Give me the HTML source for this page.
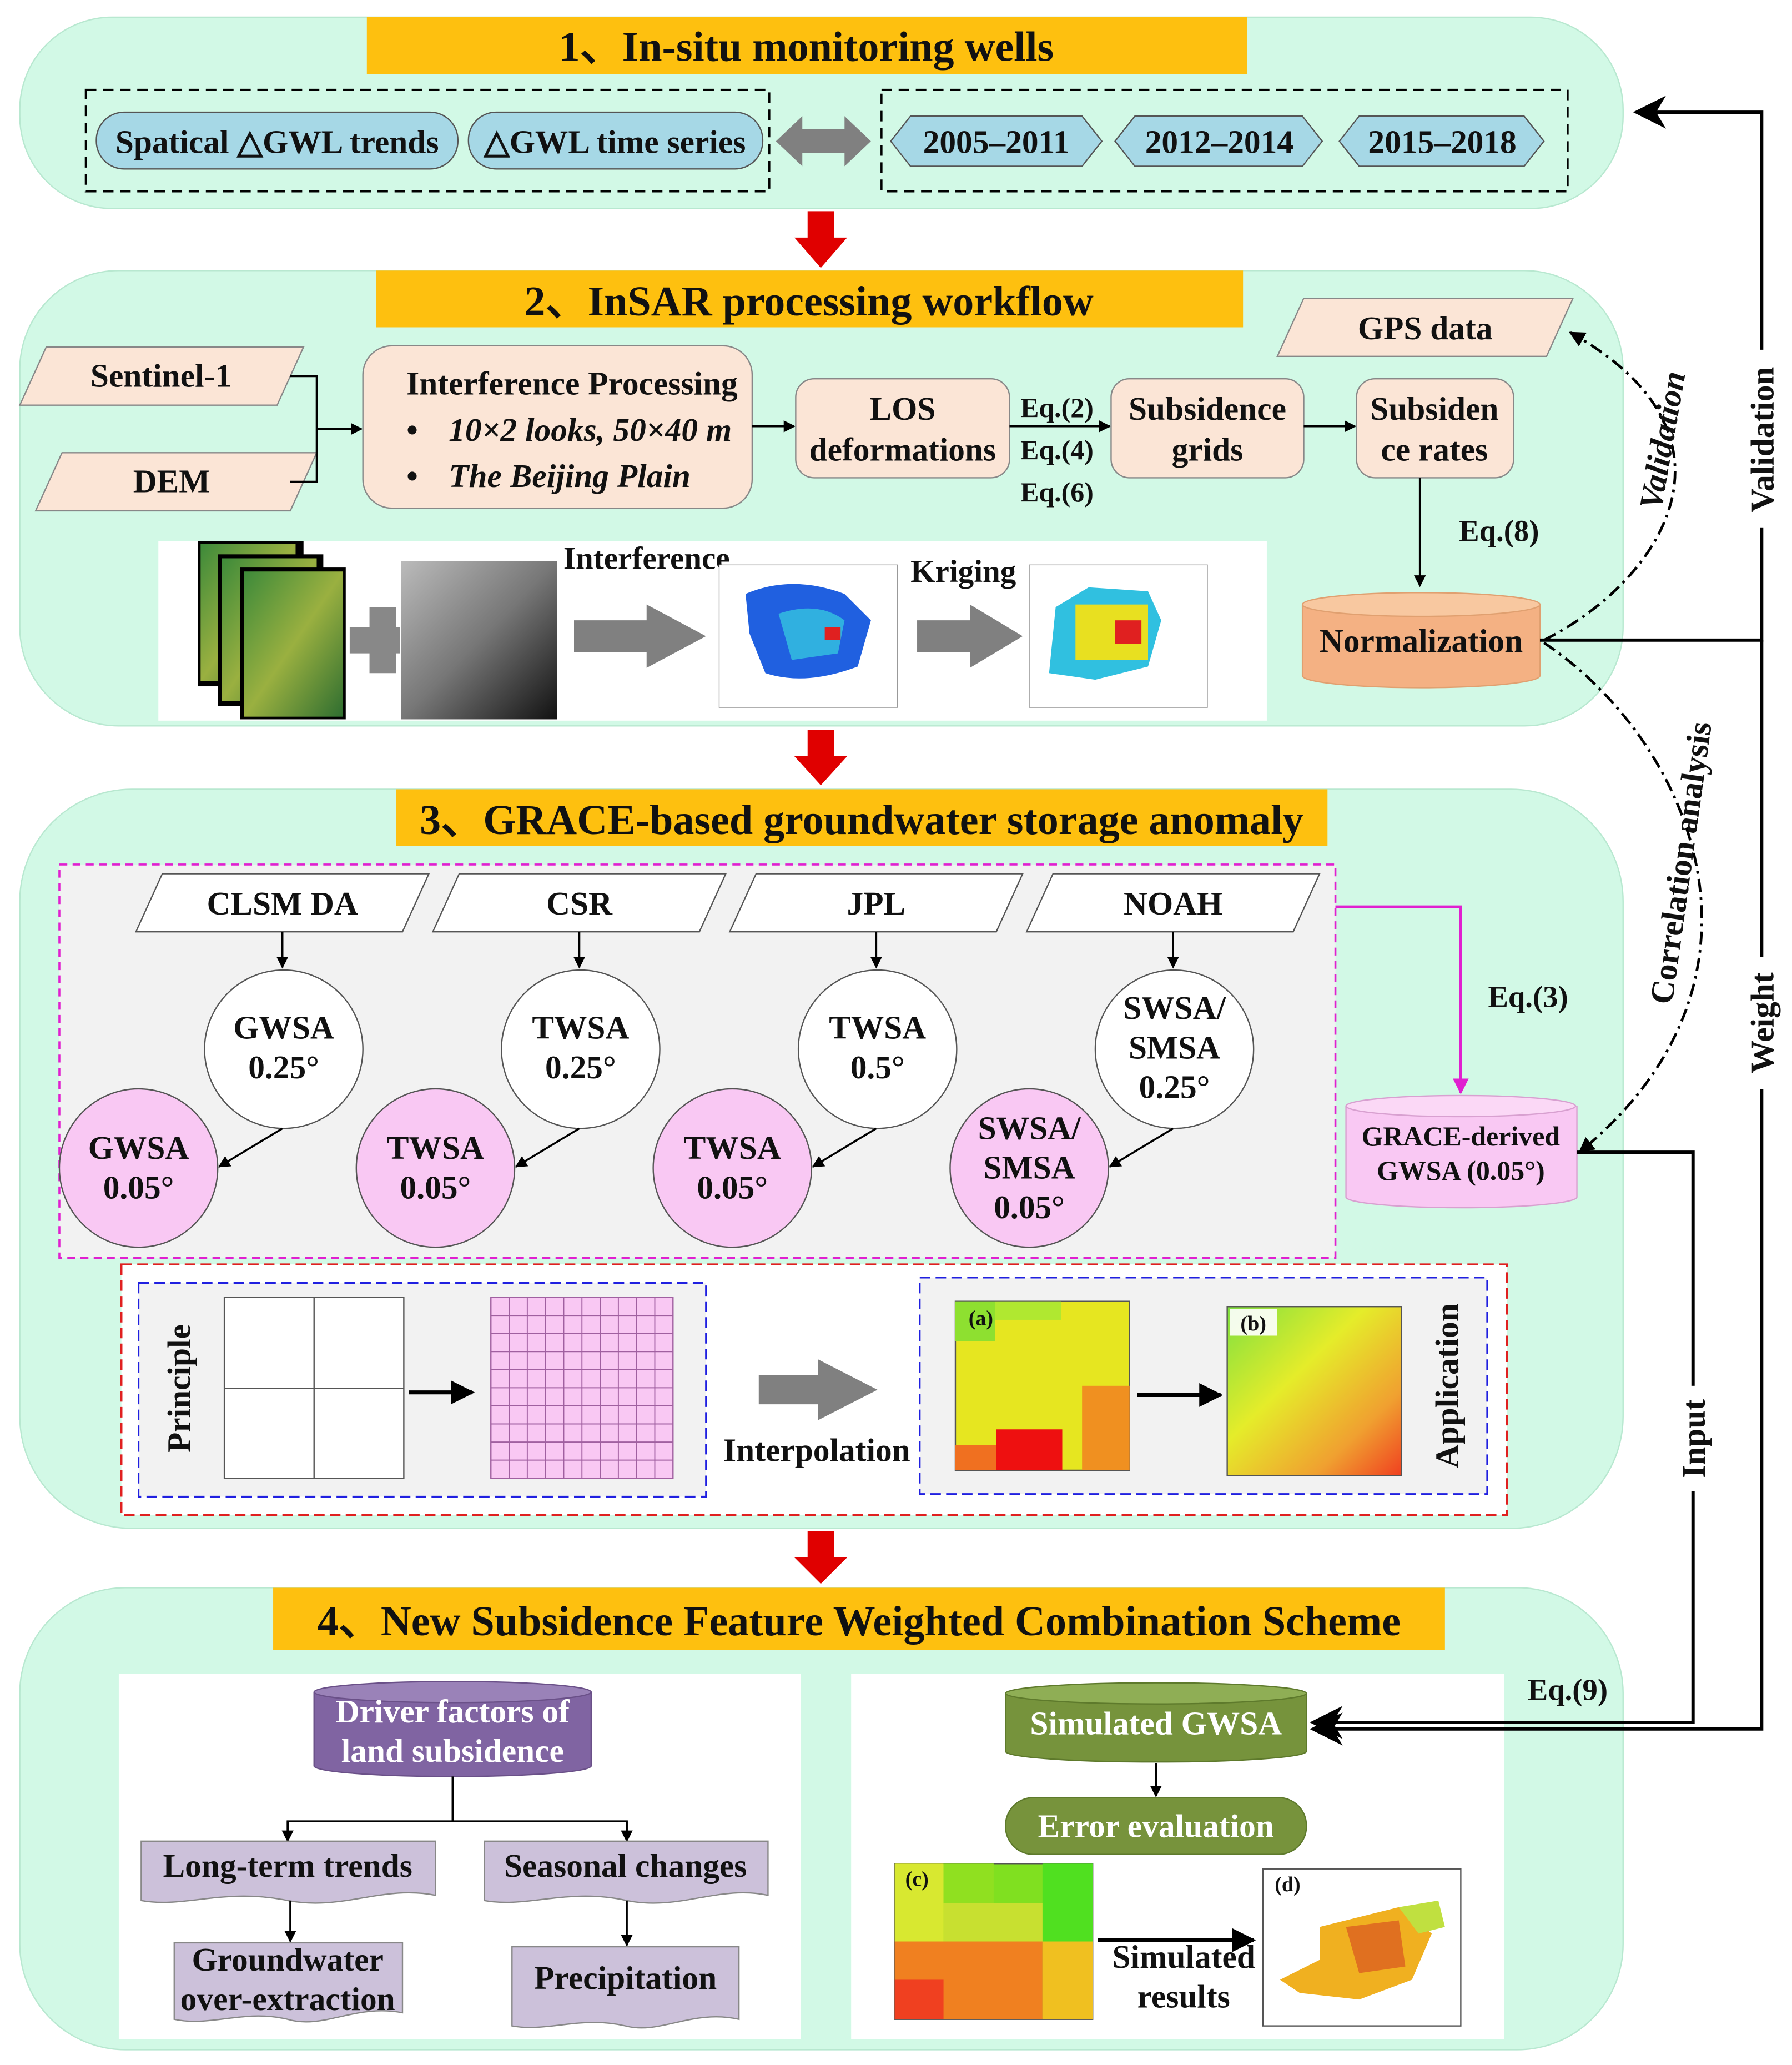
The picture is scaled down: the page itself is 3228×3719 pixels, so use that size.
<!DOCTYPE html>
<html><head><meta charset="utf-8"><style>
html,body{margin:0;padding:0;background:#fff}
svg{display:block}
text{font-family:"Liberation Serif",serif;font-weight:bold;fill:#111}
</style></head><body>
<svg width="3228" height="3719" viewBox="0 0 1358 1564.6" preserveAspectRatio="none" xmlns="http://www.w3.org/2000/svg">
<defs>
<marker id="ah" viewBox="0 0 10 10" refX="9" refY="5" markerWidth="6" markerHeight="6" orient="auto-start-reverse"><path d="M0,0L10,5L0,10z" fill="#000"/></marker>
<marker id="ahm" viewBox="0 0 10 10" refX="9" refY="5" markerWidth="6" markerHeight="6" orient="auto"><path d="M0,0L10,5L0,10z" fill="#e020d0"/></marker>
<marker id="big" viewBox="0 0 10 10" refX="9" refY="5" markerWidth="14" markerHeight="10" orient="auto"><path d="M0,0L10,5L0,10L3,5z" fill="#000"/></marker>
<linearGradient id="gb" x1="0" y1="0" x2="1" y2="1"><stop offset="0" stop-color="#7fe040"/><stop offset="0.4" stop-color="#e5ec2a"/><stop offset="0.75" stop-color="#f0a030"/><stop offset="1" stop-color="#f04020"/></linearGradient>
<linearGradient id="dem" x1="0" y1="0" x2="1" y2="1"><stop offset="0" stop-color="#bbb"/><stop offset="0.5" stop-color="#777"/><stop offset="1" stop-color="#111"/></linearGradient>
<linearGradient id="sat" x1="0" y1="0" x2="1" y2="1"><stop offset="0" stop-color="#3d8a3a"/><stop offset="0.5" stop-color="#9ab040"/><stop offset="1" stop-color="#2f6e30"/></linearGradient>
</defs>

<!-- Panel 1 -->
<rect x="15" y="13" width="1215" height="145" rx="70" fill="#d2f9e6" stroke="#b8e8d0"/>
<rect x="278" y="13" width="667" height="43" fill="#fec00f"/>
<text x="611" y="46" font-size="32" text-anchor="middle">1、In-situ monitoring wells</text>
<rect x="65" y="68" width="518" height="77" fill="none" stroke="#000" stroke-dasharray="8,5" stroke-width="1.5"/>
<rect x="73" y="85" width="274" height="43" rx="21" fill="#a6d8e6" stroke="#555"/>
<text x="210" y="116" font-size="25" text-anchor="middle">Spatical △GWL trends</text>
<rect x="355" y="85" width="223" height="43" rx="21" fill="#a6d8e6" stroke="#555"/>
<text x="466" y="116" font-size="25" text-anchor="middle">△GWL time series</text>
<path d="M588,107 L608,88 L608,98 L640,98 L640,88 L660,107 L640,126 L640,116 L608,116 L608,126z" fill="#808080"/>
<rect x="668" y="68" width="520" height="77" fill="none" stroke="#000" stroke-dasharray="8,5" stroke-width="1.5"/>
<path d="M675,107 L690,88 L820,88 L835,107 L820,126 L690,126z" fill="#a6d8e6" stroke="#555"/>
<text x="755" y="116" font-size="25" text-anchor="middle">2005–2011</text>
<path d="M845,107 L860,88 L987,88 L1002,107 L987,126 L860,126z" fill="#a6d8e6" stroke="#555"/>
<text x="924" y="116" font-size="25" text-anchor="middle">2012–2014</text>
<path d="M1015,107 L1030,88 L1155,88 L1170,107 L1155,126 L1030,126z" fill="#a6d8e6" stroke="#555"/>
<text x="1093" y="116" font-size="25" text-anchor="middle">2015–2018</text>

<path d="M612,160 L632,160 L632,180 L642,180 L622,203 L602,180 L612,180z" fill="#e00000"/>

<!-- Panel 2 -->
<rect x="15" y="205" width="1215" height="345" rx="75" fill="#d2f9e6" stroke="#b8e8d0"/>
<rect x="285" y="205" width="657" height="43" fill="#fec00f"/>
<text x="613" y="239" font-size="32" text-anchor="middle">2、InSAR processing workflow</text>
<path d="M35,263 L230,263 L210,307 L15,307z" fill="#fbe5d6" stroke="#888"/>
<text x="122" y="293" font-size="25" text-anchor="middle">Sentinel-1</text>
<path d="M47,343 L240,343 L220,387 L27,387z" fill="#fbe5d6" stroke="#888"/>
<text x="130" y="373" font-size="25" text-anchor="middle">DEM</text>
<path d="M220,285 H240 V365 H220 M240,325 H274" fill="none" stroke="#000" stroke-width="1.5" marker-end="url(#ah)"/>
<path d="M988,226 L1192,226 L1172,270 L968,270z" fill="#fbe5d6" stroke="#888"/>
<text x="1080" y="257" font-size="25" text-anchor="middle">GPS data</text>
<rect x="275" y="262" width="295" height="123" rx="22" fill="#fbe5d6" stroke="#888"/>
<text x="308" y="299" font-size="25">Interference Processing</text>
<text x="308" y="334" font-size="25">•</text>
<text x="340" y="334" font-size="25" font-style="italic">10×2 looks, 50×40 m</text>
<text x="308" y="369" font-size="25">•</text>
<text x="340" y="369" font-size="25" font-style="italic">The Beijing Plain</text>
<line x1="570" y1="323" x2="602" y2="323" stroke="#000" stroke-width="1.5" marker-end="url(#ah)"/>
<rect x="603" y="287" width="162" height="75" rx="14" fill="#fbe5d6" stroke="#888"/>
<text x="684" y="318" font-size="25" text-anchor="middle">LOS</text>
<text x="684" y="349" font-size="25" text-anchor="middle">deformations</text>
<line x1="765" y1="323" x2="841" y2="323" stroke="#000" stroke-width="1.5" marker-end="url(#ah)"/>
<text x="801" y="316" font-size="21" text-anchor="middle">Eq.(2)</text>
<text x="801" y="348" font-size="21" text-anchor="middle">Eq.(4)</text>
<text x="801" y="380" font-size="21" text-anchor="middle">Eq.(6)</text>
<rect x="842" y="287" width="146" height="75" rx="14" fill="#fbe5d6" stroke="#888"/>
<text x="915" y="318" font-size="25" text-anchor="middle">Subsidence</text>
<text x="915" y="349" font-size="25" text-anchor="middle">grids</text>
<line x1="988" y1="323" x2="1027" y2="323" stroke="#000" stroke-width="1.5" marker-end="url(#ah)"/>
<rect x="1028" y="287" width="119" height="75" rx="14" fill="#fbe5d6" stroke="#888"/>
<text x="1087" y="318" font-size="25" text-anchor="middle">Subsiden</text>
<text x="1087" y="349" font-size="25" text-anchor="middle">ce rates</text>
<line x1="1076" y1="362" x2="1076" y2="444" stroke="#000" stroke-width="1.5" marker-end="url(#ah)"/>
<text x="1136" y="410" font-size="23" text-anchor="middle">Eq.(8)</text>
<path d="M987,458 V512 A90,9 0 0 0 1167,512 V458" fill="#f4b183" stroke="#e0a070"/>
<ellipse cx="1077" cy="458" rx="90" ry="9" fill="#f8c8a0" stroke="#e0a070"/>
<text x="1077" y="494" font-size="25" text-anchor="middle">Normalization</text>

<!-- image strip -->
<rect x="120" y="410" width="840" height="136" fill="#fff"/>
<rect x="150" y="410" width="80" height="110" fill="#000"/><rect x="152" y="412" width="72" height="104" fill="url(#sat)"/>
<rect x="165" y="420" width="80" height="115" fill="#000"/><rect x="168" y="423" width="72" height="108" fill="url(#sat)"/>
<rect x="182" y="430" width="80" height="115" fill="#000"/><rect x="185" y="433" width="75" height="110" fill="url(#sat)"/>
<path d="M265,475 H280 V460 H300 V475 H303 V495 H300 V510 H280 V495 H265z" fill="#888"/>
<rect x="304" y="425" width="118" height="120" fill="url(#dem)"/>
<text x="490" y="431" font-size="24" text-anchor="middle">Interference</text>
<path d="M435,470 H490 V458 L535,482 L490,506 V494 H435z" fill="#808080"/>
<rect x="545" y="428" width="135" height="108" fill="#fff" stroke="#999" stroke-width="0.6"/>
<path d="M565,450 Q600,435 640,450 L660,470 L650,505 Q610,520 580,510 L568,480z" fill="#2060e0"/>
<path d="M590,465 Q620,455 640,470 L635,495 L600,500z" fill="#30b0e0"/>
<rect x="625" y="475" width="12" height="10" fill="#e02020"/>
<text x="730" y="441" font-size="24" text-anchor="middle">Kriging</text>
<path d="M695,470 H735 V458 L775,482 L735,506 V494 H695z" fill="#808080"/>
<rect x="780" y="428" width="135" height="108" fill="#fff" stroke="#999" stroke-width="0.6"/>
<path d="M800,460 L825,445 L870,448 L880,470 L870,505 L830,515 L795,510z" fill="#30c0e0"/>
<rect x="815" y="458" width="55" height="42" fill="#e8e020"/>
<rect x="845" y="470" width="20" height="18" fill="#e02020"/>

<path d="M612,553 L632,553 L632,573 L642,573 L622,595 L602,573 L612,573z" fill="#e00000"/>

<!-- Panel 3 -->
<rect x="15" y="598" width="1215" height="560" rx="85" fill="#d2f9e6" stroke="#b8e8d0"/>
<rect x="300" y="598" width="706" height="43" fill="#fec00f"/>
<text x="653" y="632" font-size="32" text-anchor="middle">3、GRACE-based groundwater storage anomaly</text>
<rect x="45" y="655" width="967" height="298" fill="#f2f2f2" stroke="#e020d0" stroke-dasharray="6,4" stroke-width="1.5"/>
<g font-size="25">
<path d="M123,662 L325,662 L305,706 L103,706z" fill="#fff" stroke="#555"/>
<text x="214" y="693" text-anchor="middle">CLSM DA</text>
<path d="M348,662 L550,662 L530,706 L328,706z" fill="#fff" stroke="#555"/>
<text x="439" y="693" text-anchor="middle">CSR</text>
<path d="M573,662 L775,662 L755,706 L553,706z" fill="#fff" stroke="#555"/>
<text x="664" y="693" text-anchor="middle">JPL</text>
<path d="M798,662 L1000,662 L980,706 L778,706z" fill="#fff" stroke="#555"/>
<text x="889" y="693" text-anchor="middle">NOAH</text>
</g>
<g stroke="#000" stroke-width="1.5">
<line x1="214" y1="706" x2="214" y2="733" marker-end="url(#ah)"/>
<line x1="439" y1="706" x2="439" y2="733" marker-end="url(#ah)"/>
<line x1="664" y1="706" x2="664" y2="733" marker-end="url(#ah)"/>
<line x1="889" y1="706" x2="889" y2="733" marker-end="url(#ah)"/>
</g>
<g fill="#fff" stroke="#555">
<circle cx="215" cy="795" r="60"/><circle cx="440" cy="795" r="60"/><circle cx="665" cy="795" r="60"/><circle cx="890" cy="795" r="60"/>
</g>
<g fill="#f9c8f3" stroke="#555">
<circle cx="105" cy="885" r="60"/><circle cx="330" cy="885" r="60"/><circle cx="555" cy="885" r="60"/><circle cx="780" cy="885" r="60"/>
</g>
<g stroke="#000" stroke-width="1.5">
<line x1="214" y1="855" x2="166" y2="884" marker-end="url(#ah)"/>
<line x1="439" y1="855" x2="391" y2="884" marker-end="url(#ah)"/>
<line x1="664" y1="855" x2="616" y2="884" marker-end="url(#ah)"/>
<line x1="889" y1="855" x2="841" y2="884" marker-end="url(#ah)"/>
</g>
<g font-size="25" text-anchor="middle">
<text x="215" y="787">GWSA</text><text x="215" y="817">0.25°</text>
<text x="440" y="787">TWSA</text><text x="440" y="817">0.25°</text>
<text x="665" y="787">TWSA</text><text x="665" y="817">0.5°</text>
<text x="890" y="772">SWSA/</text><text x="890" y="802">SMSA</text><text x="890" y="832">0.25°</text>
<text x="105" y="878">GWSA</text><text x="105" y="908">0.05°</text>
<text x="330" y="878">TWSA</text><text x="330" y="908">0.05°</text>
<text x="555" y="878">TWSA</text><text x="555" y="908">0.05°</text>
<text x="780" y="863">SWSA/</text><text x="780" y="893">SMSA</text><text x="780" y="923">0.05°</text>
</g>
<path d="M1012,687 H1107 V828" fill="none" stroke="#e020d0" stroke-width="2" marker-end="url(#ahm)"/>
<text x="1158" y="763" font-size="23" text-anchor="middle">Eq.(3)</text>
<path d="M1020,838 V907 A87,8 0 0 0 1195,907 V838" fill="#f9c8f3" stroke="#d8a0d0"/>
<ellipse cx="1107" cy="838" rx="87" ry="8" fill="#fbd8f6" stroke="#d8a0d0"/>
<text x="1107" y="868" font-size="21" text-anchor="middle">GRACE-derived</text>
<text x="1107" y="894" font-size="21" text-anchor="middle">GWSA (0.05°)</text>

<rect x="92" y="958" width="1050" height="190" fill="#fff" stroke="#e02020" stroke-dasharray="8,4" stroke-width="1.5"/>
<rect x="105" y="972" width="430" height="162" fill="#f2f2f2" stroke="#2020e0" stroke-dasharray="8,4" stroke-width="1.3"/>
<rect x="697" y="968" width="430" height="164" fill="#f2f2f2" stroke="#2020e0" stroke-dasharray="8,4" stroke-width="1.3"/>
<text transform="translate(144,1052) rotate(-90)" font-size="25" text-anchor="middle">Principle</text>
<rect x="170" y="983" width="136" height="137" fill="#fff" stroke="#555"/>
<line x1="238" y1="983" x2="238" y2="1120" stroke="#555"/><line x1="170" y1="1052" x2="306" y2="1052" stroke="#555"/>
<line x1="310" y1="1055" x2="358" y2="1055" stroke="#000" stroke-width="3" marker-end="url(#ah)"/>
<rect x="372" y="983" width="138" height="137" fill="#f9c8f3" stroke="#a060a0"/>
<path d="M385.8,983V1120M399.6,983V1120M413.4,983V1120M427.2,983V1120M441,983V1120M454.8,983V1120M468.6,983V1120M482.4,983V1120M496.2,983V1120M372,996.7H510M372,1010.4H510M372,1024.1H510M372,1037.8H510M372,1051.5H510M372,1065.2H510M372,1078.9H510M372,1092.6H510M372,1106.3H510" stroke="#a060a0" stroke-width="0.8"/>
<path d="M575,1042 H620 V1030 L665,1053 L620,1076 V1064 H575z" fill="#808080"/>
<text x="619" y="1107" font-size="25" text-anchor="middle">Interpolation</text>
<rect x="724" y="986" width="132" height="128" fill="#e6e620" stroke="#555"/>
<rect x="724" y="986" width="30" height="30" fill="#8ee030"/><rect x="754" y="986" width="50" height="14" fill="#b0e830"/>
<rect x="820" y="1050" width="36" height="64" fill="#f09020"/>
<rect x="755" y="1083" width="50" height="31" fill="#ee1010"/>
<rect x="724" y="1095" width="31" height="19" fill="#f07020"/>
<text x="734" y="1004" font-size="16">(a)</text>
<line x1="862" y1="1057" x2="925" y2="1057" stroke="#000" stroke-width="3" marker-end="url(#ah)"/>
<rect x="930" y="990" width="132" height="128" fill="url(#gb)" stroke="#555"/>
<rect x="932" y="992" width="36" height="20" fill="#fff" opacity="0.9"/>
<text x="940" y="1008" font-size="16">(b)</text>
<text transform="translate(1105,1050) rotate(-90)" font-size="25" text-anchor="middle">Application</text>

<path d="M612,1160 L632,1160 L632,1180 L642,1180 L622,1200 L602,1180 L612,1180z" fill="#e00000"/>

<!-- Panel 4 -->
<rect x="15" y="1203" width="1215" height="350" rx="80" fill="#d2f9e6" stroke="#b8e8d0"/>
<rect x="207" y="1203" width="888" height="47" fill="#fec00f"/>
<text x="651" y="1239" font-size="32" text-anchor="middle">4、New Subsidence Feature Weighted Combination  Scheme</text>
<rect x="90" y="1268" width="517" height="277" fill="#fff"/>
<rect x="645" y="1268" width="495" height="277" fill="#fff"/>
<path d="M238,1282 V1338 A105,8 0 0 0 448,1338 V1282" fill="#8064a2" stroke="#6a5088"/>
<ellipse cx="343" cy="1282" rx="105" ry="8" fill="#9a82b8" stroke="#6a5088"/>
<text x="343" y="1305" font-size="25" text-anchor="middle" style="fill:#fff">Driver factors of</text>
<text x="343" y="1335" font-size="25" text-anchor="middle" style="fill:#fff">land subsidence</text>
<path d="M343,1346 V1380 M218,1394 V1380 H475 V1394" fill="none" stroke="#000" stroke-width="1.5"/>
<line x1="218" y1="1380" x2="218" y2="1395" stroke="#000" stroke-width="1.5" marker-end="url(#ah)"/>
<line x1="475" y1="1380" x2="475" y2="1395" stroke="#000" stroke-width="1.5" marker-end="url(#ah)"/>
<path d="M107,1395 H330 V1436 C290,1428 260,1448 218,1440 C170,1430 140,1446 107,1440z" fill="#ccc1da" stroke="#888"/>
<text x="218" y="1422" font-size="25" text-anchor="middle">Long-term trends</text>
<path d="M367,1395 H582 V1436 C545,1428 515,1448 475,1440 C430,1430 400,1446 367,1440z" fill="#ccc1da" stroke="#888"/>
<text x="474" y="1422" font-size="25" text-anchor="middle">Seasonal changes</text>
<line x1="220" y1="1440" x2="220" y2="1471" stroke="#000" stroke-width="1.5" marker-end="url(#ah)"/>
<line x1="475" y1="1440" x2="475" y2="1474" stroke="#000" stroke-width="1.5" marker-end="url(#ah)"/>
<path d="M132,1472 H305 V1525 C270,1518 245,1538 218,1530 C185,1522 160,1536 132,1530z" fill="#ccc1da" stroke="#888"/>
<text x="218" y="1493" font-size="25" text-anchor="middle">Groundwater</text>
<text x="218" y="1523" font-size="25" text-anchor="middle">over-extraction</text>
<path d="M388,1475 H560 V1530 C525,1522 500,1542 474,1535 C440,1527 415,1540 388,1535z" fill="#ccc1da" stroke="#888"/>
<text x="474" y="1507" font-size="25" text-anchor="middle">Precipitation</text>
<path d="M762,1283 V1327 A114,8 0 0 0 990,1327 V1283" fill="#76933c" stroke="#5e7a2c"/>
<ellipse cx="876" cy="1283" rx="114" ry="8" fill="#8fae55" stroke="#5e7a2c"/>
<text x="876" y="1314" font-size="25" text-anchor="middle" style="fill:#fff">Simulated GWSA</text>
<line x1="876" y1="1336" x2="876" y2="1361" stroke="#000" stroke-width="1.5" marker-end="url(#ah)"/>
<rect x="762" y="1362" width="228" height="43" rx="21" fill="#77933c" stroke="#5e7a2c"/>
<text x="876" y="1392" font-size="25" text-anchor="middle" style="fill:#fff">Error evaluation</text>
<rect x="678" y="1412" width="150" height="118" fill="#80e020" stroke="#555"/>
<rect x="678" y="1412" width="37" height="59" fill="#d8e830"/><rect x="715" y="1412" width="38" height="30" fill="#90e020"/>
<rect x="790" y="1412" width="38" height="59" fill="#50e020"/>
<rect x="678" y="1471" width="112" height="59" fill="#f08020"/><rect x="790" y="1471" width="38" height="59" fill="#f0c020"/>
<rect x="715" y="1442" width="75" height="29" fill="#c8e030"/>
<rect x="678" y="1500" width="37" height="30" fill="#f04020"/>
<text x="686" y="1429" font-size="16">(c)</text>
<line x1="832" y1="1470" x2="950" y2="1470" stroke="#000" stroke-width="3" marker-end="url(#ah)"/>
<text x="897" y="1491" font-size="25" text-anchor="middle">Simulated</text>
<text x="897" y="1521" font-size="25" text-anchor="middle">results</text>
<rect x="957" y="1416" width="150" height="119" fill="#fff" stroke="#555"/>
<text x="966" y="1433" font-size="16">(d)</text>
<path d="M1000,1460 L1060,1445 L1085,1465 L1070,1500 L1030,1515 L985,1510 L970,1500 L1000,1485z" fill="#f0b020"/>
<path d="M1020,1460 L1060,1455 L1065,1490 L1030,1495z" fill="#e07020"/>
<path d="M1060,1445 L1090,1440 L1095,1460 L1075,1465z" fill="#c0e040"/>
<text x="1188" y="1288" font-size="23" text-anchor="middle">Eq.(9)</text>

<!-- right side connectors -->
<path d="M1167,485 H1335 V85 H1240" fill="none" stroke="#000" stroke-width="2.5" marker-end="url(#big)"/>
<path d="M1335,485 V1310 H995" fill="none" stroke="#000" stroke-width="2.5" marker-end="url(#big)"/>
<path d="M1195,873 H1283 V1305 H995" fill="none" stroke="#000" stroke-width="2.5" marker-end="url(#big)"/>
<rect x="1322" y="265" width="26" height="135" fill="#fff"/>
<text transform="translate(1344,333) rotate(-90)" font-size="25" text-anchor="middle">Validation</text>
<rect x="1322" y="725" width="26" height="100" fill="#fff"/>
<text transform="translate(1344,775) rotate(-90)" font-size="25" text-anchor="middle">Weight</text>
<rect x="1270" y="1050" width="26" height="80" fill="#fff"/>
<text transform="translate(1292,1090) rotate(-90)" font-size="25" text-anchor="middle">Input</text>
<path d="M1170,485 C1260,440 1330,330 1190,252" fill="none" stroke="#000" stroke-width="2" stroke-dasharray="10,4,2,4" marker-end="url(#ah)"/>
<text transform="translate(1268,335) rotate(-80)" font-size="25" font-style="italic" text-anchor="middle">Validation</text>
<path d="M1170,487 C1280,560 1360,740 1197,873" fill="none" stroke="#000" stroke-width="2" stroke-dasharray="10,4,2,4" marker-end="url(#ah)"/>
<text transform="translate(1282,655) rotate(-82)" font-size="25" text-anchor="middle">Correlation analysis</text>
</svg>
</body></html>
